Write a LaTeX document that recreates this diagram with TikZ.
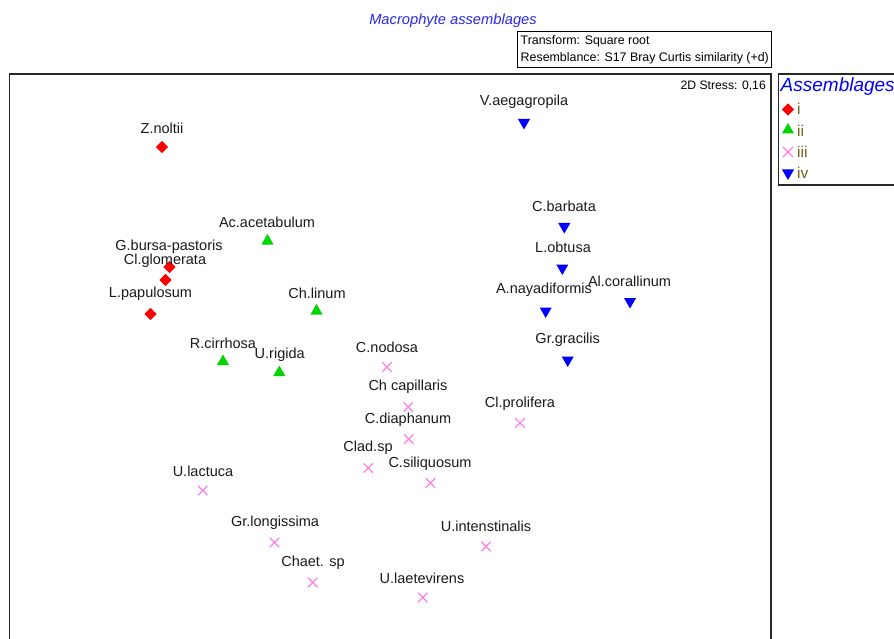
\documentclass[tikz,border=0pt]{standalone}
\usepackage{fontspec}
\setmainfont{Liberation Sans}
\usetikzlibrary{shapes.geometric,shapes.misc}
\definecolor{mkred}{RGB}{255,0,0}
\definecolor{mkgreen}{RGB}{0,215,0}
\definecolor{mkpink}{RGB}{255,128,230}
\definecolor{mkblue}{RGB}{0,0,255}
\definecolor{ttlblue}{RGB}{40,40,235}
\definecolor{legtxt}{RGB}{110,95,20}
\definecolor{framegray}{RGB}{40,40,40}
\tikzset{
  lbl/.style={inner sep=0pt, font=\fontsize{14.5}{17}\selectfont, text=black!90},
  mkdia/.style={diamond, fill=mkred, minimum size=12.5pt, inner sep=0pt},
  mkup/.style={regular polygon, regular polygon sides=3, fill=mkgreen, minimum size=14pt, inner sep=0pt},
  mkdown/.style={regular polygon, regular polygon sides=3, shape border rotate=180, fill=mkblue, minimum size=14pt, inner sep=0pt},
  mkx/.style={cross out, draw=mkpink, line width=1.3pt, minimum size=8pt, inner sep=0pt},
  legtext/.style={inner sep=0pt, anchor=west, font=\fontsize{15.5}{18}\selectfont, text=legtxt},
}
\begin{document}
\begin{tikzpicture}[x=1pt,y=-1pt]
\useasboundingbox (0,0) rectangle (894,639);
\clip (0,0) rectangle (894,639);
% title and info box
\node[inner sep=0pt, font=\fontsize{14.7}{17}\selectfont\itshape, text=ttlblue] (title) at (453,21) {Macrophyte assemblages};
\node[draw=black, line width=0.8pt, inner sep=0pt, minimum width=254pt, minimum height=36pt, anchor=north west] (info) at (517,31) {};
\node[inner sep=0pt, anchor=west, align=left, font=\fontsize{12.4}{17}\selectfont] (infotext) at ([xshift=3.5pt]info.west) {Transform: Square root\\Resemblance: S17 Bray Curtis similarity (+d)};
% plot frame
\draw[framegray, line width=1.6pt] (9.5,650) -- (9.5,74) -- (771,74) -- (771,650);
\node[inner sep=0pt, anchor=east, font=\fontsize{12.2}{14}\selectfont] (stress) at (766,86) {2D Stress: 0,16};
% legend
\draw[framegray, line width=1.2pt] (900,74) -- (778.5,74) -- (778.5,185) -- (900,185);
\node[inner sep=0pt, anchor=west, font=\fontsize{19}{22}\selectfont\itshape, text=mkblue] (legtitle) at (780.5,87) {Assemblages};
\node[mkdia, minimum size=12.5pt] (l1) at (788,109.5) {};
\node[legtext] (t1) at (797,109) {i};
\node[mkup, minimum size=14pt] (l2) at (788,130) {};
\node[legtext] (t2) at (797,131) {ii};
\node[mkx, minimum size=9pt] (l3) at (788,152) {};
\node[legtext] (t3) at (797,152) {iii};
\node[mkdown, minimum size=14pt] (l4) at (788,173) {};
\node[legtext] (t4) at (797,173) {iv};
% group i
\node[mkdia] (zn) at (162,147) {};
\node[lbl] at (162,128) {Z.noltii};
\node[mkdia] (gb) at (169.5,267) {};
\node[lbl] at (169,247) {G.bursa-pastoris};
\node[mkdia] (cg) at (165.5,280) {};
\node[lbl] at (165,261) {Cl.glomerata};
\node[mkdia] (lp) at (150.5,314) {};
\node[lbl] at (150.5,294) {L.papulosum};
% group ii
\node[mkup] (aa) at (267.5,241) {};
\node[lbl] at (267,222) {Ac.acetabulum};
\node[mkup] (cl) at (316.5,311) {};
\node[lbl] at (317,293) {Ch.linum};
\node[mkup] (rc) at (223,361.5) {};
\node[lbl] at (223,343) {R.cirrhosa};
\node[mkup] (ur) at (279.3,372.5) {};
\node[lbl] at (279.7,355) {U.rigida};
% group iii
\node[mkx] (cn) at (387,367) {};
\node[lbl] at (387,347.5) {C.nodosa};
\node[mkx] (cc) at (408.3,407) {};
\node[lbl] at (408,387) {Ch capillaris};
\node[mkx] (cd) at (408.7,439) {};
\node[lbl] at (408,420) {C.diaphanum};
\node[mkx] (cs) at (368.3,468) {};
\node[lbl] at (368,448) {Clad.sp};
\node[mkx] (csi) at (430.5,483) {};
\node[lbl] at (430,463.5) {C.siliquosum};
\node[mkx] (cp) at (520,423) {};
\node[lbl] at (520,404) {Cl.prolifera};
\node[mkx] (ul) at (202.7,490.5) {};
\node[lbl] at (203,471) {U.lactuca};
\node[mkx] (gl) at (274.5,542.5) {};
\node[lbl] at (275,522.5) {Gr.longissima};
\node[mkx] (chs) at (312.7,582.5) {};
\node[lbl] at (313,563) {Chaet. sp};
\node[mkx] (ui) at (486,546.5) {};
\node[lbl] at (486,526.5) {U.intenstinalis};
\node[mkx] (ula) at (422.7,597.5) {};
\node[lbl] at (422,578.5) {U.laetevirens};
% group iv
\node[mkdown] (va) at (524,122.5) {};
\node[lbl] at (524,102) {V.aegagropila};
\node[mkdown] (cb) at (564.3,226.5) {};
\node[lbl] at (564,206.5) {C.barbata};
\node[mkdown] (lo) at (562.3,268) {};
\node[lbl] at (563,247) {L.obtusa};
\node[mkdown] (an) at (545.7,311) {};
\node[lbl] at (544,290) {A.nayadiformis};
\node[mkdown] (ac) at (630,301.5) {};
\node[lbl] at (629.5,281) {Al.corallinum};
\node[mkdown] (gg) at (567.7,360) {};
\node[lbl] at (567.7,339.5) {Gr.gracilis};
\end{tikzpicture}
\end{document}
